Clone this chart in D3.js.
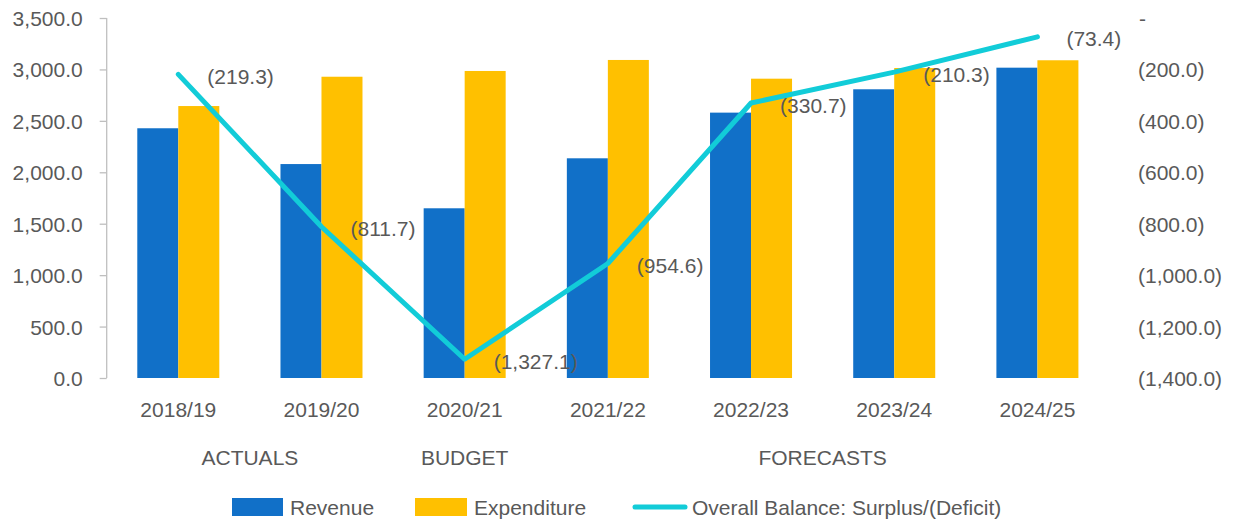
<!DOCTYPE html>
<html><head><meta charset="utf-8">
<script src="https://cdn.jsdelivr.net/npm/d3@7"></script>
<style>
html,body{margin:0;padding:0;background:#fff;}
svg text{font-family:"Liberation Sans",Arial,sans-serif;fill:#595959;}
</style></head>
<body><svg id="c" width="1234" height="521"></svg>
<script>
const categories = ["2018/19","2019/20","2020/21","2021/22","2022/23","2023/24","2024/25"];
const revenue = [2428, 2080, 1650, 2136, 2580, 2807, 3017];
const expenditure = [2644, 2929, 2985, 3092, 2910, 3014, 3089];
const balance = [-219.3, -811.7, -1327.1, -954.6, -330.7, -210.3, -73.4];
const groups = [
  {name:"ACTUALS", from:"2018/19", to:"2019/20"},
  {name:"BUDGET", from:"2020/21", to:"2020/21"},
  {name:"FORECASTS", from:"2021/22", to:"2024/25"}
];
const leftTicks = [0,500,1000,1500,2000,2500,3000,3500];
const rightTicks = [0,-200,-400,-600,-800,-1000,-1200,-1400];
const seriesNames = ["Revenue","Expenditure","Overall Balance: Surplus/(Deficit)"];

(function(){
const colors = {rev:"#1170C8", exp:"#FFC000", line:"#12CCD8", text:"#595959", axis:"#BFBFBF"};
const svg = d3.select("#c");
const pLeft = 106.7, pRight = 1109, pTop = 18, pBottom = 378;

const x = d3.scaleBand().domain(categories).range([pLeft, pRight]).padding(0);
const x1 = d3.scaleBand().domain(["rev","exp"]).range([0, x.bandwidth()]).paddingInner(0).paddingOuter(0.746);
const yL = d3.scaleLinear().domain([0,3500]).range([pBottom, pTop]);
const yR = d3.scaleLinear().domain([-1400,0]).range([pBottom, pTop]);
const fmt = d3.format(",.1f");

// bars
const g = svg.append("g");
categories.forEach((c,i)=>{
  g.append("rect").attr("x", x(c)+x1("rev")).attr("y", yL(revenue[i]))
   .attr("width", x1.bandwidth()).attr("height", yL(0)-yL(revenue[i])).attr("fill", colors.rev);
  g.append("rect").attr("x", x(c)+x1("exp")).attr("y", yL(expenditure[i]))
   .attr("width", x1.bandwidth()).attr("height", yL(0)-yL(expenditure[i])).attr("fill", colors.exp);
});

// left axis
const la = svg.append("g").attr("transform",`translate(${pLeft},0)`)
  .call(d3.axisLeft(yL).tickValues(leftTicks).tickSize(7).tickPadding(17).tickFormat(fmt));
la.select(".domain").attr("stroke", colors.axis).attr("stroke-width",1.3).attr("d",`M0,${pTop}V${pBottom}`);
la.selectAll(".tick line").attr("stroke", colors.axis).attr("stroke-width",1.3);
la.selectAll("text").attr("font-size","21px").attr("fill",colors.text).attr("font-family","Liberation Sans, Arial, sans-serif").attr("dy","0.36em");

// right axis
const ra = svg.append("g").attr("transform",`translate(1138,0)`)
  .call(d3.axisRight(yR).tickValues(rightTicks).tickSize(0).tickPadding(0)
    .tickFormat(v => v===0 ? "-" : "(" + fmt(-v) + ")"));
ra.select(".domain").remove();
ra.selectAll("text").attr("font-size","21px").attr("fill",colors.text).attr("font-family","Liberation Sans, Arial, sans-serif").attr("dy","0.36em");
ra.selectAll(".tick").filter(d=>d===0).select("text").attr("x",1);

// x axis labels
const xa = svg.append("g").attr("transform",`translate(0,${pBottom})`)
  .call(d3.axisBottom(x).tickSize(0).tickPadding(24));
xa.select(".domain").remove();
xa.selectAll("text").attr("font-size","21px").attr("fill",colors.text).attr("font-family","Liberation Sans, Arial, sans-serif");

// group labels
groups.forEach(gr=>{
  const cx = (x(gr.from) + x(gr.to) + x.bandwidth())/2;
  svg.append("text").attr("x", cx).attr("y", 457).attr("dy","0.36em")
    .attr("text-anchor","middle").attr("font-size","21px").text(gr.name);
});

// line
const line = d3.line().x((d,i)=>x(categories[i]) + x.bandwidth()/2).y(d=>yR(d));
svg.append("path").datum(balance).attr("d", line).attr("fill","none")
  .attr("stroke", colors.line).attr("stroke-width",5).attr("stroke-linejoin","round").attr("stroke-linecap","round");

// line labels
balance.forEach((v,i)=>{
  svg.append("text").attr("x", x(categories[i]) + x.bandwidth()/2 + 29).attr("y", yR(v)+2)
    .attr("dy","0.36em").attr("font-size","21px").text("(" + fmt(-v) + ")");
});

// legend
const lg = svg.append("g");
lg.append("rect").attr("x",232).attr("y",498).attr("width",51).attr("height",18).attr("fill",colors.rev);
lg.append("text").attr("x",290).attr("y",507).attr("dy","0.36em").attr("font-size","21px").text(seriesNames[0]);
lg.append("rect").attr("x",415).attr("y",498).attr("width",52).attr("height",18).attr("fill",colors.exp);
lg.append("text").attr("x",474).attr("y",507).attr("dy","0.36em").attr("font-size","21px").text(seriesNames[1]);
lg.append("line").attr("x1",635).attr("x2",685).attr("y1",507).attr("y2",507)
  .attr("stroke",colors.line).attr("stroke-width",5).attr("stroke-linecap","round");
lg.append("text").attr("x",692).attr("y",507).attr("dy","0.36em").attr("font-size","21px").text(seriesNames[2]);
})();
</script></body></html>
